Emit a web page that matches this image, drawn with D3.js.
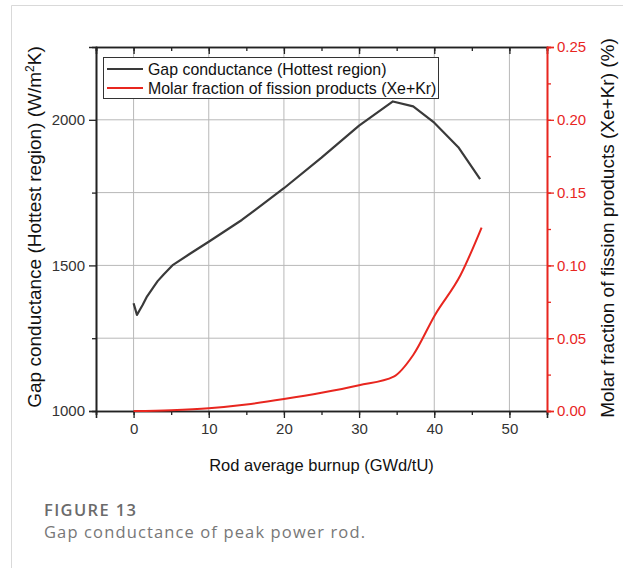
<!DOCTYPE html>
<html><head><meta charset="utf-8">
<script src="https://cdn.jsdelivr.net/npm/d3@7"></script>
<style>
body{margin:0;background:#fff}svg{display:block}
.ax text{font-family:'Liberation Sans',Arial,sans-serif !important;font-size:15px !important;}
</style>
</head><body>
<svg id="c" width="623" height="568"></svg>
<script>
const burnupGap = [0, 0.45, 0.8, 1.2, 1.8, 2.6, 3.2, 4, 5.25, 7.5, 10.1, 14.4, 20, 25, 30, 34.5, 37.2, 40, 43.2, 46.1];
const gapConductance = [1370, 1330, 1346, 1364, 1394, 1424, 1446, 1469, 1502, 1540, 1583, 1656, 1765, 1870, 1980, 2063, 2046, 1990, 1906, 1796];
const burnupFrac = [0, 5, 10, 15, 20, 25, 30, 34.6, 37.2, 40.1, 43.5, 46.3];
const molarFraction = [0, 0.0006, 0.0019, 0.0045, 0.0082, 0.0125, 0.0177, 0.0236, 0.0385, 0.066, 0.0934, 0.126];
const xTicks = [0, 10, 20, 30, 40, 50];
const yLeftTicks = [1000, 1500, 2000];
const yRightTicks = [0, 0.05, 0.10, 0.15, 0.20, 0.25];
const legendLabels = ["Gap conductance (Hottest region)", "Molar fraction of fission products (Xe+Kr)"];

const svg = d3.select("#c");
const L = 96, R = 547, T = 47, B = 411;
const x = d3.scaleLinear().domain([-5, 55]).range([L, R]);
const yL = d3.scaleLinear().domain([1000, 2250]).range([B, T]);
const yR = d3.scaleLinear().domain([0, 0.25]).range([B, T]);
const font = "'Liberation Sans', Arial, sans-serif";
const red = "#e8261f";

// frame
svg.append("line").attr("x1", 11.5).attr("x2", 623).attr("y1", 5.5).attr("y2", 5.5).attr("stroke", "#d9d9d9");
svg.append("line").attr("x1", 11.5).attr("x2", 11.5).attr("y1", 5.5).attr("y2", 568).attr("stroke", "#d9d9d9");

// grid
const g = svg.append("g");
g.selectAll(".vg").data(xTicks).join("line")
  .attr("x1", d => x(d)).attr("x2", d => x(d)).attr("y1", T).attr("y2", B)
  .attr("stroke", "#b8b8b8").attr("stroke-width", 1);
g.selectAll(".hg").data(yRightTicks.filter(d => d > 0 && d < 0.25)).join("line")
  .attr("x1", L).attr("x2", R).attr("y1", d => yR(d)).attr("y2", d => yR(d))
  .attr("stroke", "#b8b8b8").attr("stroke-width", 1);

// axes
function ax(cls, tr) {
  return svg.append("g").attr("class", "ax " + cls).attr("transform", tr);
}
const xMinor = d3.range(-5, 56, 5);
ax("", `translate(0,${B})`).call(d3.axisBottom(x).tickValues(xMinor).tickSize(4).tickFormat(""));
ax("", `translate(0,${B})`).call(d3.axisBottom(x).tickValues(xTicks).tickSize(7).tickPadding(5).tickFormat(d3.format("d")));
ax("", `translate(0,${T})`).call(d3.axisBottom(x).tickValues(xMinor).tickSize(4).tickFormat(""));
ax("", `translate(0,${T})`).call(d3.axisBottom(x).tickValues(xTicks).tickSize(7).tickFormat(""));
ax("", `translate(${L},0)`).call(d3.axisLeft(yL).tickValues([1250, 1750]).tickSize(4).tickFormat(""));
ax("", `translate(${L},0)`).call(d3.axisLeft(yL).tickValues(yLeftTicks).tickSize(7).tickPadding(4).tickFormat(d3.format("d")));
const rMinor = d3.range(0, 0.2501, 0.025);
ax("ra", `translate(${R},0)`).call(d3.axisRight(yR).tickValues(rMinor).tickSize(4).tickFormat(""));
ax("ra", `translate(${R},0)`).call(d3.axisRight(yR).tickValues(yRightTicks).tickSize(7).tickPadding(3).tickFormat(d3.format(".2f")));

svg.selectAll(".domain").style("stroke", "#222").style("stroke-width", 1.6);
svg.selectAll(".tick line").style("stroke", "#222").style("stroke-width", 1.3);
svg.selectAll(".tick text").style("fill", "#333");
svg.selectAll(".ra .domain, .ra .tick line").style("stroke", red);
svg.selectAll(".ra .tick text").style("fill", red);

// lines
const lineG = d3.line().x((d, i) => x(burnupGap[i])).y(d => yL(d));
svg.append("path").datum(gapConductance).attr("d", lineG)
  .attr("fill", "none").attr("stroke", "#3a3a3a").attr("stroke-width", 2.2)
  .attr("stroke-linejoin", "round");
const lineR = d3.line().x((d, i) => x(burnupFrac[i])).y(d => yR(d)).curve(d3.curveMonotoneX);
svg.append("path").datum(molarFraction).attr("d", lineR)
  .attr("fill", "none").attr("stroke", red).attr("stroke-width", 2);

// legend
const lg = svg.append("g");
lg.append("rect").attr("x", 103.5).attr("y", 57.5).attr("width", 335).attr("height", 41)
  .attr("fill", "#fff").attr("stroke", "#333").attr("stroke-width", 1);
const lcol = ["#3a3a3a", red];
legendLabels.forEach((t, i) => {
  const yy = 69 + i * 19;
  lg.append("line").attr("x1", 107).attr("x2", 143).attr("y1", yy).attr("y2", yy)
    .attr("stroke", lcol[i]).attr("stroke-width", 2);
  lg.append("text").attr("x", 148).attr("y", yy + 5.5).text(t)
    .style("font-family", font).style("font-size", "15.9px").attr("fill", "#111");
});

// axis titles
svg.append("text").attr("x", (L + R) / 2).attr("y", 471).attr("text-anchor", "middle")
  .style("font-family", font).style("font-size", "16.5px").attr("fill", "#111").text("Rod average burnup (GWd/tU)");
const lt = svg.append("text").attr("transform", "translate(41,227) rotate(-90)").attr("text-anchor", "middle")
  .style("font-family", font).style("font-size", "19px").attr("fill", "#111");
lt.append("tspan").text("Gap conductance (Hottest region) (W/m");
lt.append("tspan").style("font-size", "12px").attr("dy", -7).text("2");
lt.append("tspan").attr("dy", 7).text("K)");
svg.append("text").attr("transform", "translate(614,228) rotate(-90)").attr("text-anchor", "middle")
  .style("font-family", font).style("font-size", "19px").attr("fill", "#111").text("Molar fraction of fission products (Xe+Kr) (%)");

// caption
svg.append("text").attr("x", 44).attr("y", 516).style("font-family", "'Open Sans', sans-serif")
  .style("font-size", "16.5px").style("font-weight", 600)
  .attr("textLength", 92).attr("lengthAdjust", "spacing")
  .attr("fill", "#6b6b6b").text("FIGURE 13");
svg.append("text").attr("x", 44).attr("y", 538).style("font-family", "'Open Sans', sans-serif")
  .style("font-size", "16.5px")
  .attr("textLength", 321).attr("lengthAdjust", "spacing")
  .attr("fill", "#777").text("Gap conductance of peak power rod.");
</script>
</body></html>
